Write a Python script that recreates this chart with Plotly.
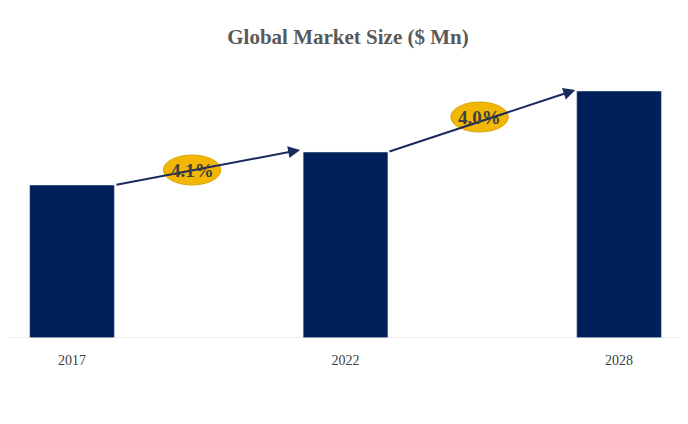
import plotly.graph_objects as go

years = ["2017", "2022", "2028"]
market_size = [153, 186, 247]
cagr_labels = ["4.1%", "4.0%"]

fig = go.Figure()
fig.add_trace(go.Bar(
    x=[0, 1, 2], y=market_size, width=0.31,
    marker_color="#00205B", hoverinfo="x+y",
))

# arrows between bar tops
arrows = [((0.157, 153), (0.834, 188)), ((1.155, 186), (1.84, 248))]
for (x0, y0), (x1, y1) in arrows:
    fig.add_annotation(x=x1, y=y1, ax=x0, ay=y0, xref="x", yref="y", axref="x", ayref="y",
                       text="", showarrow=True, arrowhead=2, arrowsize=1.2, arrowwidth=2,
                       arrowcolor="#1B2A5E")

# CAGR ellipses
centers = [(0.439, 168), (1.49, 221)]
for (cx, cy), lab in zip(centers, cagr_labels):
    fig.add_shape(type="circle", xref="x", yref="y", x0=cx - 0.105, x1=cx + 0.105,
                  y0=cy - 15, y1=cy + 15, fillcolor="#F2B705", line=dict(color="#D9A400", width=1))
    fig.add_annotation(x=cx, y=cy, text=f"<b>{lab}</b>", showarrow=False,
                       font=dict(family="Liberation Serif", size=19, color="#404040"))

fig.update_layout(
    width=680, height=416,
    margin=dict(l=0, r=0, t=52, b=86),
    paper_bgcolor="white", plot_bgcolor="white",
    title=dict(text="<b>Global Market Size ($ Mn)</b>", x=0.5, y=0.95, xanchor="center",
               font=dict(family="Liberation Serif", size=21, color="#595959")),
    showlegend=False,
    xaxis=dict(range=[-0.234, 2.252], tickvals=[0, 1, 2], ticktext=years,
               showgrid=False, zeroline=False, showline=False, ticks="", ticklabelstandoff=12,
               tickfont=dict(family="Liberation Serif", size=14, color="#404040")),
    yaxis=dict(range=[0, 278], visible=False),
)
fig.add_shape(type="line", xref="paper", yref="y", x0=0, x1=1, y0=0, y1=0,
              line=dict(color="#D9D9D9", width=1))

fig.write_html("out.html")
